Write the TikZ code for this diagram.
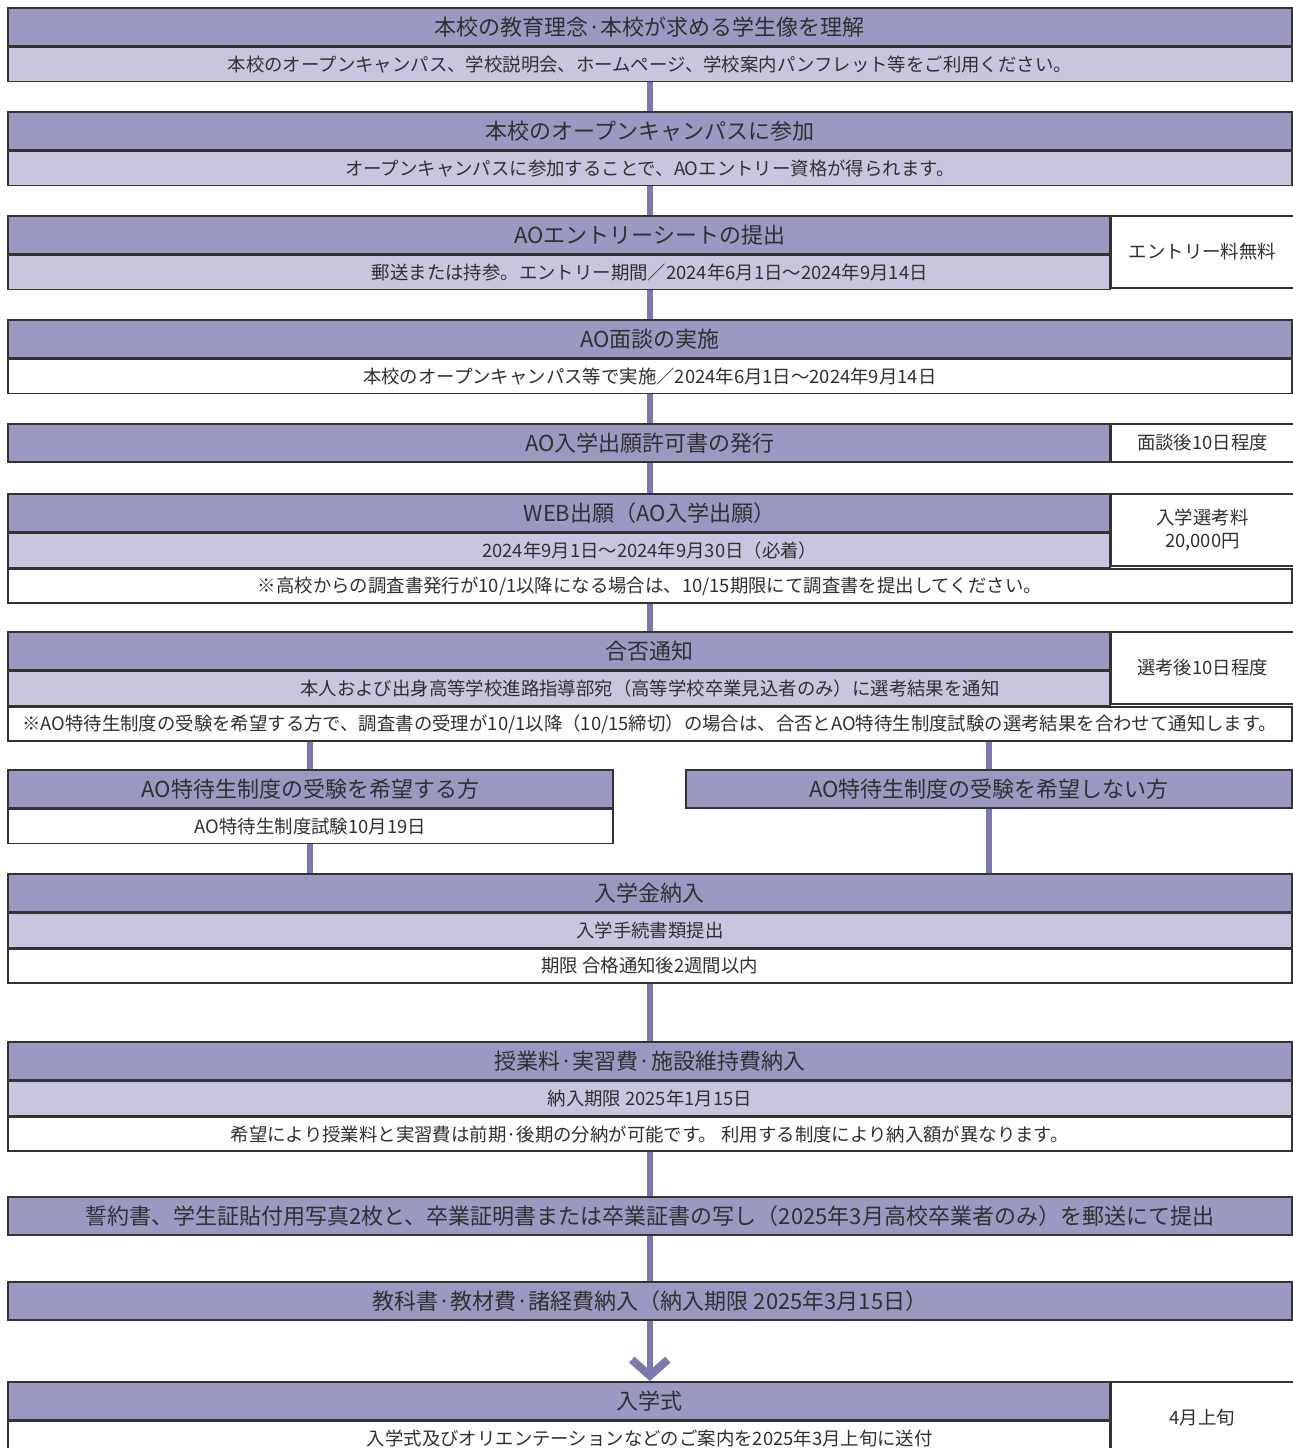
\documentclass[tikz,border=0pt]{standalone}
\usepackage{fontspec}
\setmainfont{Noto Sans CJK JP}
\usetikzlibrary{arrows.meta,positioning}

\definecolor{hdrfill}{RGB}{155,153,193}
\definecolor{subfill}{RGB}{200,198,222}
\definecolor{linkcol}{RGB}{123,121,173}
\definecolor{edgecol}{RGB}{51,51,51}
\definecolor{txtcol}{RGB}{48,48,48}

\tikzset{every picture/.style={line width=0.75pt}}
\tikzset{
	cell/.style={draw=edgecol, line width=1.2pt, inner sep=0pt, text=txtcol, anchor=north west},
	hdr/.style={cell, fill=hdrfill, minimum height=28.5pt, font=\fontsize{16.5}{19}\selectfont},
	sub/.style={cell, fill=subfill, minimum height=25.5pt, font=\fontsize{13.8}{16}\selectfont},
	note/.style={sub, fill=white},
	side/.style={cell, fill=white, minimum width=136.5pt, minimum height=54pt, align=center, font=\fontsize{13.8}{17}\selectfont},
	link/.style={draw=linkcol, line width=4.5pt},
	full/.style={minimum width=963pt},
	% text stays centred on the full row width
	main/.style={minimum width=826.5pt, execute at begin node=\hspace*{136.5pt}},
}

\begin{document}
\begin{tikzpicture}[x=0.75pt,y=0.75pt,yscale=-1,xscale=1]
	\useasboundingbox (0,0) rectangle (1292,1448);

	% Step 1
	\node[hdr, full] (h1) at (7,7) {本校の教育理念·本校が求める学生像を理解};
	\node[sub, full, below=0pt of h1] (s1) {本校のオープンキャンパス、学校説明会、ホームページ、学校案内パンフレット等をご利用ください。};
	% Step 2
	\node[hdr, full] (h2) at (7,111) {本校のオープンキャンパスに参加};
	\node[sub, full, below=0pt of h2] (s2) {オープンキャンパスに参加することで、AOエントリー資格が得られます。};
	% Step 3
	\node[hdr, main] (h3) at (7,215) {AOエントリーシートの提出};
	\node[sub, main, below=0pt of h3] (s3) {郵送または持参。エントリー期間／2024年6月1日〜2024年9月14日};
	\node[side] (f3) at (h3.north east) {エントリー料無料};
	% Step 4
	\node[hdr, full] (h4) at (7,319) {AO面談の実施};
	\node[note, full, below=0pt of h4] (s4) {本校のオープンキャンパス等で実施／2024年6月1日〜2024年9月14日};
	% Step 5
	\node[hdr, main] (h5) at (7,423) {AO入学出願許可書の発行};
	\node[side, minimum height=28.5pt] (f5) at (h5.north east) {面談後10日程度};
	% Step 6
	\node[hdr, main] (h6) at (7,493) {WEB出願（AO入学出願）};
	\node[sub, main, below=0pt of h6] (s6) {2024年9月1日〜2024年9月30日（必着）};
	\node[side] (f6) at (h6.north east) {入学選考料\\20,000円};
	\node[note, full] (n6) at (s6.south west) {※高校からの調査書発行が10/1以降になる場合は、10/15期限にて調査書を提出してください。};
	% Step 7
	\node[hdr, main] (h7) at (7,631) {合否通知};
	\node[sub, main, below=0pt of h7] (s7) {本人および出身高等学校進路指導部宛（高等学校卒業見込者のみ）に選考結果を通知};
	\node[side] (f7) at (h7.north east) {選考後10日程度};
	\node[note, full] (n7) at (s7.south west) {※AO特待生制度の受験を希望する方で、調査書の受理が10/1以降（10/15締切）の場合は、合否とAO特待生制度試験の選考結果を合わせて通知します。};
	% Branches
	\node[hdr, minimum width=453.75pt] (lh) at (7,769) {AO特待生制度の受験を希望する方};
	\node[note, minimum width=453.75pt, below=0pt of lh] (ls) {AO特待生制度試験10月19日};
	\node[hdr, minimum width=454.5pt] (rh) at (685,769) {AO特待生制度の受験を希望しない方};
	% Step 9
	\node[hdr, full] (h9) at (7,873) {入学金納入};
	\node[sub, full, below=0pt of h9] (s9) {入学手続書類提出};
	\node[note, full, below=0pt of s9] (n9) {期限 合格通知後2週間以内};
	% Step 10
	\node[hdr, full] (h10) at (7,1041) {授業料·実習費·施設維持費納入};
	\node[sub, full, below=0pt of h10] (s10) {納入期限 2025年1月15日};
	\node[note, full, below=0pt of s10] (n10) {希望により授業料と実習費は前期·後期の分納が可能です。 利用する制度により納入額が異なります。};
	% Step 11
	\node[hdr, full] (h11) at (7,1196) {誓約書、学生証貼付用写真2枚と、卒業証明書または卒業証書の写し（2025年3月高校卒業者のみ）を郵送にて提出};
	% Step 12
	\node[hdr, full] (h12) at (7,1281) {教科書·教材費·諸経費納入（納入期限 2025年3月15日）};
	% Step 13
	\node[hdr, main] (h13) at (7,1381) {入学式};
	\node[note, main, below=0pt of h13] (s13) {入学式及びオリエンテーションなどのご案内を2025年3月上旬に送付};
	\node[side] (f13) at (h13.north east) {4月上旬};

	% Connectors
	\draw[link] (s1.south) -- (h2.north);
	\draw[link] (s2.south) -- (s2.south |- h3.north);
	\draw[link] (h4.north |- s3.south) -- (h4.north);
	\draw[link] (s4.south) -- (s4.south |- h5.north);
	\draw[link] (s4.south |- h5.south) -- (s4.south |- h6.north);
	\draw[link] (n6.south) -- (n6.south |- h7.north);
	\draw[link] (lh.north |- n7.south) -- (lh.north);
	\draw[link] (rh.north |- n7.south) -- (rh.north);
	\draw[link] (ls.south) -- (ls.south |- h9.north);
	\draw[link] (rh.south) -- (rh.south |- h9.north);
	\draw[link] (n9.south) -- (h10.north);
	\draw[link] (n10.south) -- (h11.north);
	\draw[link] (h11.south) -- (h12.north);
	\draw[link, -{Straight Barb[length=12pt, width=27pt, line width=6pt]}] (h12.south) -- (h12.south |- h13.north);
\end{tikzpicture}
\end{document}
